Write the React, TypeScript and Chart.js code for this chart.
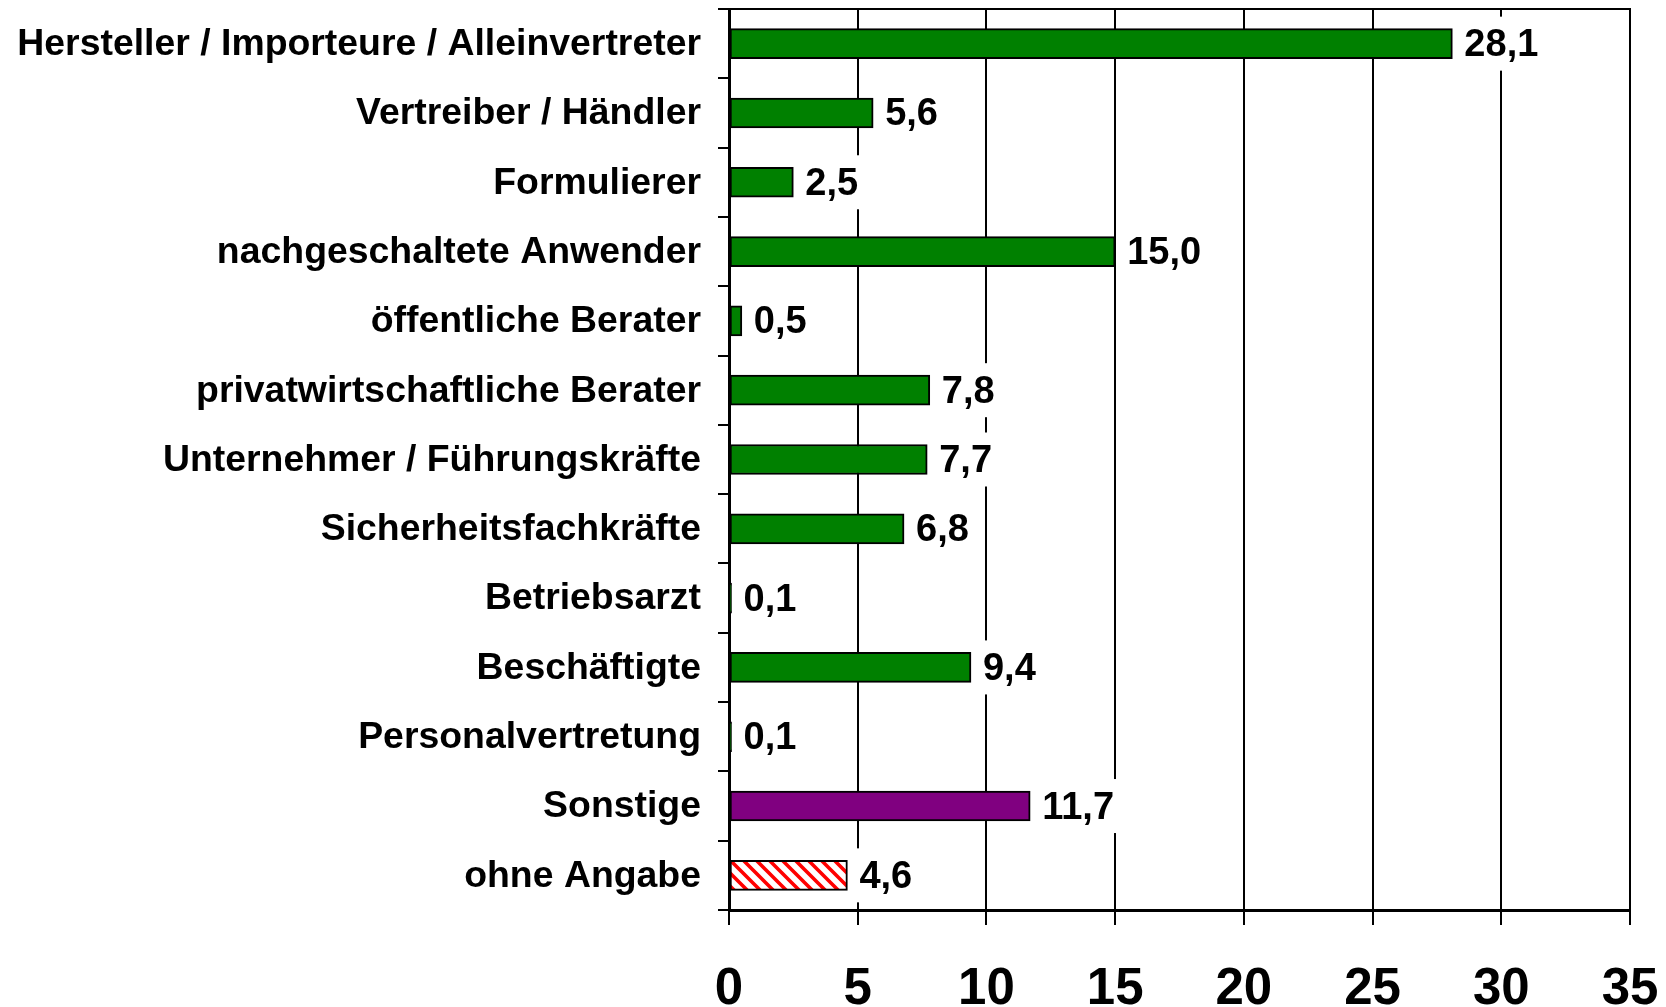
import React, { useEffect, useRef } from "react";
import { Chart, registerables } from "chart.js";

Chart.register(...registerables);

const categories = [
  "Hersteller / Importeure / Alleinvertreter",
  "Vertreiber / Händler",
  "Formulierer",
  "nachgeschaltete Anwender",
  "öffentliche Berater",
  "privatwirtschaftliche Berater",
  "Unternehmer / Führungskräfte",
  "Sicherheitsfachkräfte",
  "Betriebsarzt",
  "Beschäftigte",
  "Personalvertretung",
  "Sonstige",
  "ohne Angabe",
];

const values = [28.1, 5.6, 2.5, 15.0, 0.5, 7.8, 7.7, 6.8, 0.1, 9.4, 0.1, 11.7, 4.6];

const barKinds = [
  "green", "green", "green", "green", "green", "green", "green",
  "green", "green", "green", "green", "purple", "hatch",
];

const xTickMin = 0;
const xTickMax = 35;
const xTickStep = 5;

const FONT = "'Liberation Sans', Arial, Helvetica, sans-serif";

function makeHatch(): CanvasPattern | string {
  const s = 13;
  const c = document.createElement("canvas");
  c.width = s;
  c.height = s;
  const g = c.getContext("2d");
  if (!g) return "#ff0000";
  g.fillStyle = "#ffffff";
  g.fillRect(0, 0, s, s);
  g.strokeStyle = "#ff0000";
  g.lineWidth = 3.6;
  g.beginPath();
  g.moveTo(-2, -2);
  g.lineTo(s + 2, s + 2);
  g.moveTo(-2, s - 2);
  g.lineTo(2, s + 2);
  g.moveTo(s - 2, -2);
  g.lineTo(s + 2, 2);
  g.stroke();
  const p = g.createPattern(c, "repeat");
  return p || "#ff0000";
}

const valueLabels = {
  id: "valueLabels",
  afterDatasetsDraw(chart: any) {
    const ctx = chart.ctx;
    const meta = chart.getDatasetMeta(0);
    ctx.save();
    ctx.font = `bold 38px ${FONT}`;
    ctx.textBaseline = "middle";
    ctx.textAlign = "left";
    meta.data.forEach((bar: any, i: number) => {
      const text = values[i].toFixed(1).replace(".", ",");
      const x = bar.x + 12;
      const y = bar.y;
      const w = ctx.measureText(text).width;
      ctx.fillStyle = "#ffffff";
      ctx.fillRect(x - 6, y - 27, w + 12, 54);
      ctx.fillStyle = "#000000";
      ctx.fillText(text, x, y + 2);
    });
    ctx.restore();
  },
};

const topBorder = {
  id: "topBorder",
  afterDatasetsDraw(chart: any) {
    const { ctx, chartArea } = chart;
    ctx.save();
    ctx.strokeStyle = "#000000";
    ctx.lineWidth = 2;
    ctx.beginPath();
    ctx.moveTo(chartArea.left, chartArea.top);
    ctx.lineTo(chartArea.right + 1, chartArea.top);
    ctx.stroke();
    ctx.restore();
  },
};

export default function App() {
  const ref = useRef<HTMLCanvasElement | null>(null);

  useEffect(() => {
    if (!ref.current) return;
    const hatch = makeHatch();
    const colors = barKinds.map((k) =>
      k === "green" ? "#008000" : k === "purple" ? "#800080" : hatch
    );
    const chart = new Chart(ref.current, {
      type: "bar",
      data: {
        labels: categories,
        datasets: [
          {
            data: values,
            backgroundColor: colors as any,
            borderColor: "#000000",
            borderWidth: 2,
            borderSkipped: false,
            barThickness: 30,
          },
        ],
      },
      options: {
        indexAxis: "y",
        responsive: false,
        animation: false,
        layout: { padding: { top: 9, right: 36, left: 0, bottom: 0 } },
        plugins: {
          legend: { display: false },
          tooltip: { enabled: false },
        },
        scales: {
          x: {
            type: "linear",
            min: xTickMin,
            max: xTickMax,
            ticks: {
              stepSize: xTickStep,
              color: "#000000",
              padding: 34,
              font: { family: FONT, size: 51, weight: "bold" },
            },
            grid: {
              color: "#000000",
              lineWidth: 2,
              tickLength: 15,
              drawTicks: true,
            },
            border: { color: "#000000", width: 3 },
            afterFit: (scale: any) => {
              scale.height = 97;
              scale.paddingLeft = 0;
              scale.paddingRight = 0;
              scale.paddingTop = 0;
              scale.paddingBottom = 0;
            },
          },
          y: {
            type: "category",
            ticks: {
              autoSkip: false,
              color: "#000000",
              padding: 17,
              labelOffset: 1,
              font: { family: FONT, size: 37.4, weight: "bold" },
            },
            grid: {
              drawOnChartArea: false,
              color: "#000000",
              lineWidth: 2,
              tickLength: 11,
            },
            border: { color: "#000000", width: 3 },
            afterFit: (scale: any) => {
              scale.width = 729;
              scale.paddingLeft = 0;
              scale.paddingRight = 0;
              scale.paddingTop = 0;
              scale.paddingBottom = 0;
            },
          },
        },
      },
      plugins: [valueLabels, topBorder],
    });
    return () => chart.destroy();
  }, []);

  return (
    <canvas
      ref={ref}
      width={1666}
      height={1007}
      style={{ position: "absolute", left: 0, top: 0, width: 1666, height: 1007, background: "#ffffff" }}
    />
  );
}
